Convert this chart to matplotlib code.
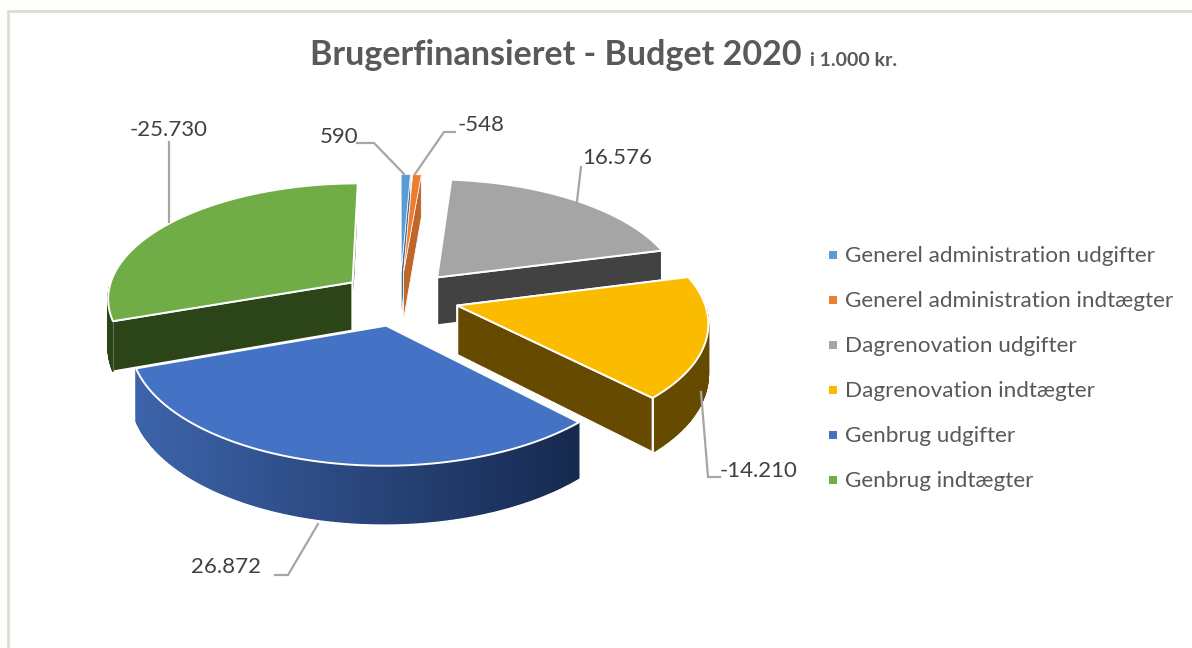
import numpy as np
import matplotlib
matplotlib.use("Agg")
import matplotlib.pyplot as plt
from matplotlib.patches import Polygon, Rectangle
from matplotlib.colors import to_rgb

categories = ["Generel administration udgifter", "Generel administration indtægter",
              "Dagrenovation udgifter", "Dagrenovation indtægter",
              "Genbrug udgifter", "Genbrug indtægter"]
values = [590, -548, 16576, -14210, 26872, -25730]
value_labels = ["590", "-548", "16.576", "-14.210", "26.872", "-25.730"]
top_colors = ["#5B9BD5", "#ED7D31", "#A5A5A5", "#FBBC00", "#4472C4", "#70AD47"]
radial_colors = ["#3F6E98", "#C0662A", "#424242", "#664A00", "#1B2E50", "#2B4519"]
wall_left = ["#3F6E98", "#C0662A", "#424242", "#664A00", "#3D64AB", "#2B4519"]
wall_right = ["#3F6E98", "#C0662A", "#424242", "#664A00", "#16294F", "#2B4519"]

CX, CY, AX, AY, DEPTH, HEIGHT, EXPLODE = 400, 298, 246, 115, 8.0, 49, 0.24
TEXT, LEADER = "#404040", "#A6A6A6"

plt.rcParams["font.family"] = ["Lato", "DejaVu Sans"]
fig = plt.figure(figsize=(11.92, 6.48), dpi=100, facecolor="#FEFEFC")
ax = fig.add_axes([0, 0, 1, 1])
ax.set_xlim(0, 1192)
ax.set_ylim(648, 0)
ax.axis("off")
ax.add_patch(Rectangle((8, 11), 1300, 800, fc="white", ec="#DEDCD6", lw=2, zorder=0))


def project(u, v, z=0.0):
    u, v = np.asarray(u, float), np.asarray(v, float)
    s = DEPTH / (DEPTH + v)
    return np.column_stack([CX + AX * u * s, CY + (-AY * v + z) * s])


mags = np.abs(values)
angles = np.concatenate([[0], np.cumsum(mags) / mags.sum() * 2 * np.pi])
order = [5, 0, 1, 2, 3, 4]
for i in order:
    t0, t1 = angles[i], angles[i + 1]
    mid = (t0 + t1) / 2
    ou, ov = EXPLODE * np.sin(mid), EXPLODE * np.cos(mid)
    th = np.linspace(t0, t1, max(6, int(np.degrees(t1 - t0) * 1.5)))
    au, av = ou + np.sin(th), ov + np.cos(th)
    top_arc = project(au, av)
    bot_arc = project(au, av, HEIGHT)
    apex_t = project([ou], [ov])
    apex_b = project([ou], [ov], HEIGHT)
    ec = "white"
    lw = 1.4 if i >= 2 else 0.5
    # radial faces
    for k in (0, -1):
        face = np.vstack([apex_t, top_arc[k], bot_arc[k], apex_b])
        ax.add_patch(Polygon(face, fc=radial_colors[i], ec=ec, lw=lw, zorder=2, joinstyle="round"))
    # outer wall: front-facing segments only
    front = np.where(np.cos((th[:-1] + th[1:]) / 2) < -0.02)[0]
    c0, c1 = np.array(to_rgb(wall_left[i])), np.array(to_rgb(wall_right[i]))
    for j in front:
        quad = np.vstack([top_arc[j], top_arc[j + 1], bot_arc[j + 1], bot_arc[j]])
        f = np.clip((top_arc[j, 0] - 135) / (578 - 135), 0, 1)
        col = c1 * f + c0 * (1 - f)
        ax.add_patch(Polygon(quad, fc=col, ec=col, lw=1.0, zorder=2))
    if i == 3:
        ax.plot([top_arc[-1, 0], bot_arc[-1, 0]], [top_arc[-1, 1], bot_arc[-1, 1]],
                color="white", lw=1.4, zorder=2)
    ax.add_patch(Polygon(np.vstack([apex_t, top_arc]), fc=top_colors[i], ec=ec, lw=lw,
                         zorder=2, joinstyle="round"))

# leader lines
leaders = [([357, 374, 404], [143, 143, 174]), ([455, 444, 415], [132, 132, 174]),
           ([581, 574], [167, 227]), ([720, 708, 701], [477, 477, 392]),
           ([275, 288, 318], [575, 575, 524]), ([169, 169], [142, 222])]
for xs, ys in leaders:
    ax.plot(xs, ys, color=LEADER, lw=1.6, zorder=3, solid_joinstyle="miter")

label_pos = [(339, 137), (481, 125), (617, 158), (759, 471), (226, 567), (169, 130)]
for lab, (x, y) in zip(value_labels, label_pos):
    ax.text(x, y, lab, fontsize=16, color=TEXT, ha="center", va="center", zorder=4)

# title
ax.text(310, 55, "Brugerfinansieret - Budget 2020", fontsize=24.5, fontweight="bold",
        color="#595959", ha="left", va="center")
ax.text(810, 60, "i 1.000 kr.", fontsize=14, fontweight="bold",
        color="#595959", ha="left", va="center")

# legend
for i, cat in enumerate(categories):
    y = 255 + 45 * i
    ax.add_patch(Rectangle((829, y - 4), 8, 8, fc=top_colors[i], ec="none", zorder=3))
    ax.text(845, y + 1, cat, fontsize=16.2, color="#595959", ha="left", va="center")

fig.savefig("out.png", dpi=100, facecolor=fig.get_facecolor())
